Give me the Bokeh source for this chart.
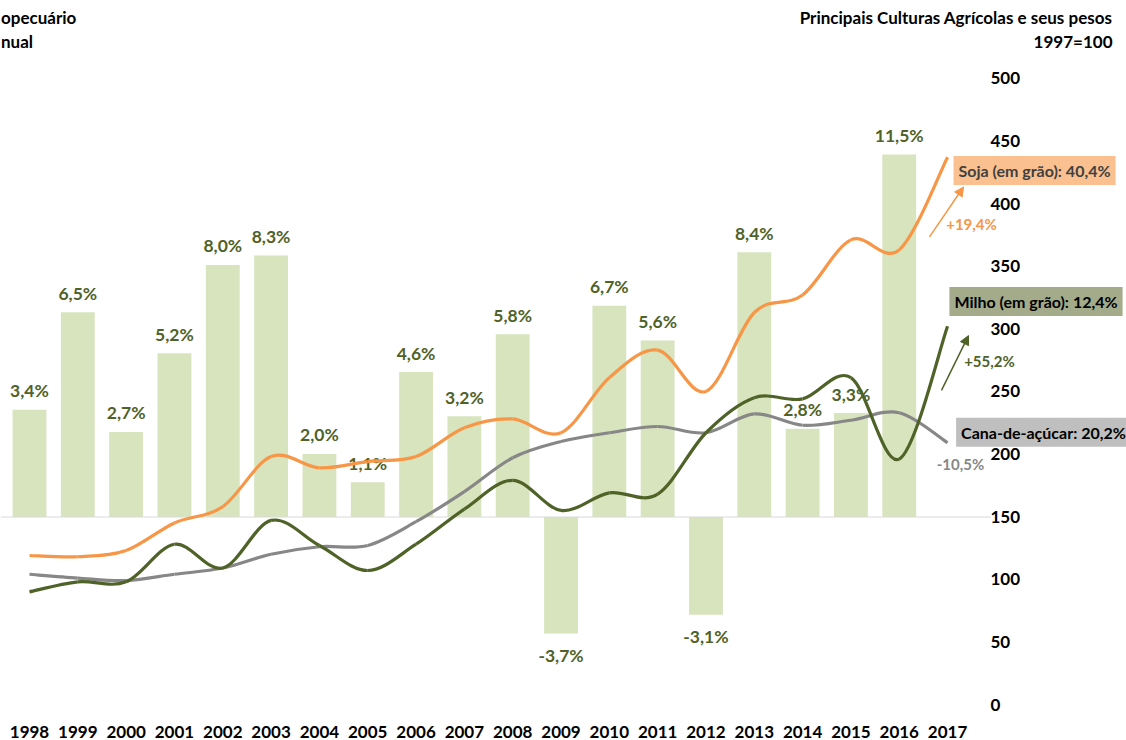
from bokeh.plotting import figure
from bokeh.models import (Range1d, FixedTicker, Label, Arrow,
                          NormalHead, ColumnDataSource)
from bokeh.core.properties import value
from bokeh.embed import file_html
from bokeh.resources import INLINE

# ---------------- data ----------------
years = [1998, 1999, 2000, 2001, 2002, 2003, 2004, 2005, 2006, 2007,
         2008, 2009, 2010, 2011, 2012, 2013, 2014, 2015, 2016, 2017]
year_labels = [str(y) for y in years]

# growth of agricultural GDP (%), no bar for 2017
bar_years = years[:-1]
growth = [3.4, 6.5, 2.7, 5.2, 8.0, 8.3, 2.0, 1.1, 4.6, 3.2,
          5.8, -3.7, 6.7, 5.6, -3.1, 8.4, 2.8, 3.3, 11.5]
growth_labels = ["3,4%", "6,5%", "2,7%", "5,2%", "8,0%", "8,3%", "2,0%", "1,1%",
                 "4,6%", "3,2%", "5,8%", "-3,7%", "6,7%", "5,6%", "-3,1%",
                 "8,4%", "2,8%", "3,3%", "11,5%"]

# indices 1997 = 100
soja = [119, 118, 123, 145, 158, 198, 189, 194, 198, 221,
        228, 217, 261, 283, 250, 313, 327, 371, 363, 437]
milho = [90, 98, 98, 128, 109, 147, 127, 107, 128, 156,
         179, 155, 169, 168, 217, 245, 244, 261, 196, 302]
cana = [104, 101, 99, 104, 109, 120, 126, 127, 146, 170,
        197, 210, 217, 222, 217, 232, 223, 227, 233, 209]

y_ticks = [0, 50, 100, 150, 200, 250, 300, 350, 400, 450, 500]
y_tick_labels = [str(t) for t in y_ticks]

# ---------------- colours ----------------
BAR = "#d7e4bd"
GREEN = "#4f6228"
ORANGE = "#f79646"
GRAY = "#878787"
FONT = "Lato"

p = figure(width=1126, height=740, output_backend="svg", toolbar_location=None,
           x_range=Range1d(1997.400, 2020.703), y_range=Range1d(-9.55, 562.1),
           min_border_left=0, min_border_top=0, min_border_right=0,
           min_border_bottom=22, outline_line_color=None)
p.extra_y_ranges = {"pct": Range1d(-6.33, 16.39)}
p.grid.visible = False
p.yaxis.visible = False

# x axis
p.xaxis.ticker = FixedTicker(ticks=years)
p.xaxis.major_label_overrides = {y: s for y, s in zip(years, year_labels)}
p.xaxis.axis_line_color = None
p.xaxis.major_tick_line_color = None
p.xaxis.minor_tick_line_color = None
p.xaxis.major_label_standoff = 3
p.xaxis.major_label_text_font = FONT
p.xaxis.major_label_text_font_style = "bold"
p.xaxis.major_label_text_font_size = "17px"
p.xaxis.major_label_text_color = "#000000"

# right-hand index scale labels (placed beside the plot area, 1997=100)
p.text(x=[2017.888] * len(y_ticks), y=y_ticks, text=y_tick_labels,
       text_align="left", text_baseline="middle", text_font=value(FONT),
       text_font_style="bold", text_font_size="17px", text_color="#000000")

# bars
bsrc = ColumnDataSource(dict(x=bar_years, top=growth, lab=growth_labels,
                             off=[-19 if g >= 0 else 22 for g in growth]))
p.vbar(x="x", top="top", bottom=0, width=0.7, source=bsrc, y_range_name="pct",
       fill_color=BAR, line_color=None)
p.segment(x0=[1997.4], x1=[2017.9], y0=[0], y1=[0], y_range_name="pct",
          line_color="#d9d9d9", line_width=1.2)
p.text(x="x", y="top", text="lab", source=bsrc, y_range_name="pct",
       y_offset="off", text_align="center", text_baseline="middle",
       text_font=value(FONT), text_font_style="bold", text_font_size="17.5px",
       text_color=GREEN)


def smooth(xs, ys):
    n = len(xs)
    x0, y0, x1, y1, cx0, cy0, cx1, cy1 = [], [], [], [], [], [], [], []
    for i in range(n - 1):
        pa = (xs[max(i - 1, 0)], ys[max(i - 1, 0)])
        pb = (xs[i], ys[i])
        pc = (xs[i + 1], ys[i + 1])
        pd = (xs[min(i + 2, n - 1)], ys[min(i + 2, n - 1)])
        x0.append(pb[0]); y0.append(pb[1]); x1.append(pc[0]); y1.append(pc[1])
        cx0.append(pb[0] + (pc[0] - pa[0]) / 6.0)
        cy0.append(pb[1] + (pc[1] - pa[1]) / 6.0)
        cx1.append(pc[0] - (pd[0] - pb[0]) / 6.0)
        cy1.append(pc[1] - (pd[1] - pb[1]) / 6.0)
    return dict(x0=x0, y0=y0, x1=x1, y1=y1, cx0=cx0, cy0=cy0, cx1=cx1, cy1=cy1)


for series, col in ((cana, GRAY), (soja, ORANGE), (milho, GREEN)):
    p.bezier(source=ColumnDataSource(smooth(years, series)),
             x0="x0", y0="y0", x1="x1", y1="y1",
             cx0="cx0", cy0="cy0", cx1="cx1", cy1="cy1",
             line_color=col, line_width=3.2)


def lab(x, y, text, color="#000000", size="16px", align="center", bg=None):
    kw = dict(x=x, y=y, text=text, text_color=color, text_font=FONT,
              text_font_style="bold", text_font_size=size, text_align=align,
              text_baseline="middle")
    if bg:
        kw.update(background_fill_color=bg, padding=5)
    p.add_layout(Label(**kw))


# titles (left one is cropped in the source image)
lab(1997.41, 548.6, "opecuário", size="17px", align="left")
lab(1997.41, 529.5, "nual", size="17px", align="left")
lab(2020.413, 548.6, "Principais Culturas Agrícolas e seus pesos", size="17px", align="right")
lab(2020.413, 529.5, "1997=100", size="17px", align="right")

# series boxes
lab(2018.80, 426.4, "Soja (em grão): 40,4%", color="#404040", bg="#fac090")
lab(2018.83, 321.7, "Milho (em grão): 12,4%", bg="#a3ab8a")
lab(2018.985, 217.4, "Cana-de-açúcar: 20,2%", bg="#bfbfbf")

# arrows and changes
p.add_layout(Arrow(x_start=2016.626, y_start=373.4, x_end=2017.33, y_end=413.2,
                   line_color=ORANGE, line_width=1.5,
                   end=NormalHead(size=9, fill_color=ORANGE, line_color=ORANGE)))
p.add_layout(Arrow(x_start=2016.874, y_start=250.8, x_end=2017.433, y_end=294.6,
                   line_color=GREEN, line_width=1.5,
                   end=NormalHead(size=9, fill_color=GREEN, line_color=GREEN)))
lab(2017.495, 383.8, "+19,4%", color=ORANGE, size="15px")
lab(2017.867, 273.9, "+55,2%", color=GREEN, size="15px")
lab(2017.267, 191.9, "-10,5%", color=GRAY, size="15px")

open("out.html", "w").write(file_html(p, INLINE))
